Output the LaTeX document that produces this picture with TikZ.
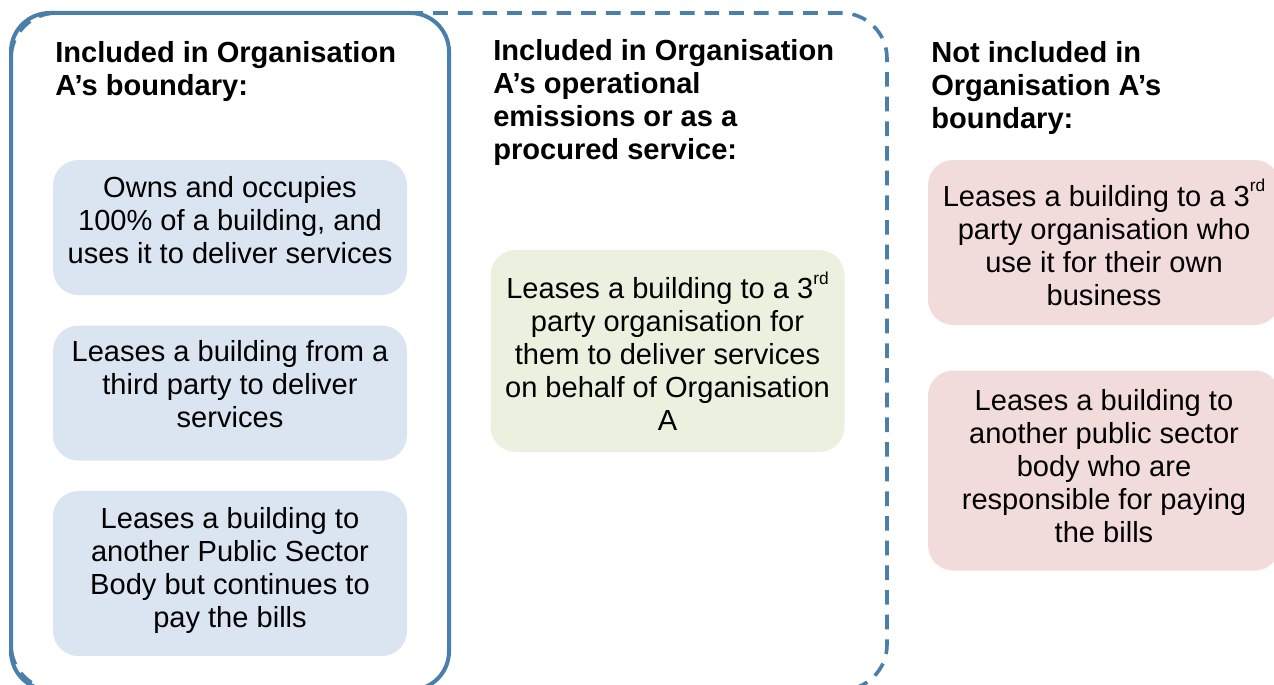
\documentclass[tikz,border=0pt]{standalone}
\usepackage{fontspec}
\setmainfont{Liberation Sans}
\usetikzlibrary{positioning}

\definecolor{framecol}{RGB}{74,126,171}
\definecolor{bluefill}{RGB}{219,229,241}
\definecolor{greenfill}{RGB}{235,241,222}
\definecolor{pinkfill}{RGB}{242,220,219}

\newcommand{\rdsup}{\raisebox{0.5em}{\fontsize{13}{13}\selectfont rd}}

\begin{document}
\begin{tikzpicture}[x=0.75pt, y=-0.75pt,
	heading/.style={anchor=north west, align=left, inner sep=0pt, font=\bfseries\fontsize{21.8}{24.75}\selectfont},
	card/.style={rounded corners=19pt, align=center, inner sep=0pt, minimum width=265.5pt, font=\fontsize{21.8}{24.75}\selectfont},
	inbox/.style={card, fill=bluefill},
	opbox/.style={card, fill=greenfill},
	outbox/.style={card, fill=pinkfill, minimum width=264pt}]
	\useasboundingbox (0,0) rectangle (1274,685);
	\clip (0,0) rectangle (1274,685);

	% boundaries
	\draw[framecol, line width=2.7pt, dash pattern=on 11pt off 7.5pt, rounded corners=34pt] (11,13) rectangle (887,690);
	\draw[framecol, line width=3pt, rounded corners=29pt] (11,13) rectangle (449,690);

	% headings
	\node[heading] (inhead) at (55,41) {Included in Organisation\\A’s boundary:};
	\node[heading] (ophead) at (493,39) {Included in Organisation\\A’s operational\\emissions or as a\\procured service:};
	\node[heading] (outhead) at (931,41) {Not included in\\Organisation A’s\\boundary:};

	% included
	\node[inbox, minimum height=101.25pt, text depth=12pt] (owns) at (230,227.5) {Owns and occupies\\100\% of a building, and\\uses it to deliver services};
	\node[inbox, minimum height=101.25pt, text depth=13.5pt, below=22.5pt of owns] (leasefrom) {Leases a building from a\\third party to deliver\\services};
	\node[inbox, minimum height=123.75pt, text depth=9pt, below=22.5pt of leasefrom] (leaseto) {Leases a building to\\another Public Sector\\Body but continues to\\pay the bills};

	% operational
	\node[opbox, minimum height=151.5pt] (leasethird) at (667.5,351) {Leases a building to a 3\rdsup\\party organisation for\\them to deliver services\\on behalf of Organisation\\A};

	% not included
	\node[outbox, minimum height=123.75pt] (leaseown) at (1104,242.5) {Leases a building to a 3\rdsup\\party organisation who\\use it for their own\\business};
	\node[outbox, minimum height=150pt, text depth=7.5pt, below=33.75pt of leaseown] (leasepsb) {Leases a building to\\another public sector\\body who are\\responsible for paying\\the bills};
\end{tikzpicture}
\end{document}
